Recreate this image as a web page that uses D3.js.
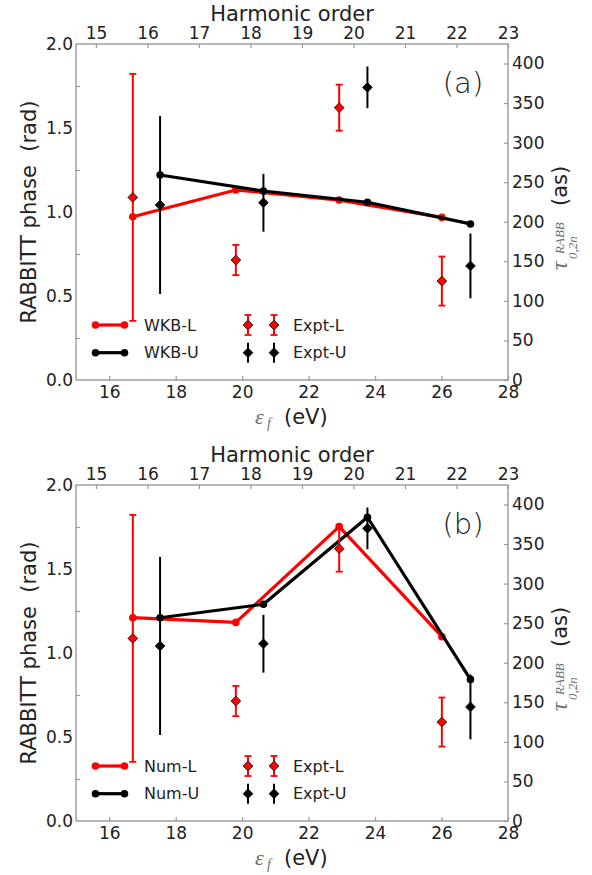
<!DOCTYPE html>
<html>
<head>
<meta charset="utf-8">
<script src="https://cdn.jsdelivr.net/npm/d3@7"></script>
<style>
  html, body { margin: 0; padding: 0; background: #fff; }
  svg { display: block; }
</style>
</head>
<body>
<script>
// Sideband photoelectron energies (eV) for the lower (L) and upper (U) ionic states
const energyL = [16.71, 19.81, 22.92, 26.01];
const energyU = [17.53, 20.64, 23.77, 26.87];

// Calculated RABBITT phases (rad)
const wkbL = [0.972, 1.131, 1.071, 0.968];
const wkbU = [1.220, 1.125, 1.058, 0.929];
const numL = [1.210, 1.182, 1.752, 1.097];
const numU = [1.210, 1.290, 1.808, 0.843];

// Measured phases (rad) and their error bars
const exptL = [1.087, 0.714, 1.621, 0.589];
const errL  = [0.735, 0.090, 0.137, 0.146];
const exptU = [1.042, 1.055, 1.742, 0.679];
const errU  = [0.530, 0.172, 0.124, 0.193];

// Tick values
const energyTicks   = [16, 18, 20, 22, 24, 26, 28];
const phaseTicks    = [0, 0.5, 1.0, 1.5, 2.0];
const phaseMinor    = [0.25, 0.75, 1.25, 1.75];
const harmonicTicks = [15, 16, 17, 18, 19, 20, 21, 22, 23];
const delayTicks    = [0, 50, 100, 150, 200, 250, 300, 350, 400];

// Conversions between axes
const photonEnergy = 1.55;   // eV, IR fundamental
const energyOffset = 7.65;   // eV, harmonic order q -> q*hw - offset
const hbar = 0.658212;       // eV fs
const omega = photonEnergy / hbar;          // rad/fs
const phaseToAs = 1000 / (2 * omega);       // as per rad

const W = 592, H = 875;
const left = 76, plotW = 432, plotH = 336;
const spine = "#999";
const textCol = "#222";
const mathCol = "#6e6e6e";
const RED = "#ff0000", BLACK = "#000000";

const svg = d3.select("body").append("svg")
  .attr("width", W).attr("height", H)
  .attr("viewBox", `0 0 ${W} ${H}`);

const x = d3.scaleLinear().domain([15, 28]).range([0, plotW]);
const y = d3.scaleLinear().domain([0, 2]).range([plotH, 0]);
const xTop = d3.scaleLinear()
  .domain([(15 + energyOffset) / photonEnergy, (28 + energyOffset) / photonEnergy])
  .range([0, plotW]);
const yRight = d3.scaleLinear().domain([0, 2 * phaseToAs]).range([plotH, 0]);

const diamond = d3.symbol().type(d3.symbolSquare).size(48);

function styleAxis(g, size) {
  g.select(".domain").remove();
  g.selectAll(".tick line").attr("stroke", spine).attr("stroke-width", 1.2);
  g.selectAll(".tick text")
    .attr("fill", textCol)
    .attr("font-family", "DejaVu Sans, sans-serif")
    .attr("font-size", size);
}

function drawPanel(top, modelL, modelU, nameL, nameU, tag) {
  const g = svg.append("g").attr("transform", `translate(${left},${top})`);

  // axes
  g.append("g").attr("transform", `translate(0,${plotH})`)
    .call(d3.axisBottom(x).tickValues(energyTicks).tickFormat(d3.format("d"))
      .tickSizeInner(-4).tickSizeOuter(0).tickPadding(6))
    .call(a => styleAxis(a, 17));

  g.append("g")
    .call(d3.axisLeft(y).tickValues(phaseTicks).tickFormat(d3.format(".1f"))
      .tickSizeInner(0).tickSizeOuter(0).tickPadding(3))
    .call(a => styleAxis(a, 17));
  g.append("g")
    .call(d3.axisLeft(y).tickValues(phaseMinor).tickFormat("")
      .tickSizeInner(-4).tickSizeOuter(0))
    .call(a => styleAxis(a, 17));

  g.append("g")
    .call(d3.axisTop(xTop).tickValues(harmonicTicks).tickFormat(d3.format("d"))
      .tickSizeInner(-4).tickSizeOuter(0).tickPadding(5))
    .call(a => styleAxis(a, 17));

  g.append("g").attr("transform", `translate(${plotW},0)`)
    .call(d3.axisRight(yRight).tickValues(delayTicks).tickFormat(d3.format("d"))
      .tickSizeInner(-4).tickSizeOuter(0).tickPadding(4))
    .call(a => styleAxis(a, 17));

  // frame
  g.append("rect")
    .attr("x", 0).attr("y", 0).attr("width", plotW).attr("height", plotH)
    .attr("fill", "none").attr("stroke", spine).attr("stroke-width", 1.4);

  // axis titles
  svg.append("text")
    .attr("x", left + plotW / 2).attr("y", top - 23)
    .attr("text-anchor", "middle")
    .attr("font-family", "DejaVu Sans, sans-serif").attr("font-size", 21)
    .attr("fill", textCol)
    .text("Harmonic order");

  svg.append("text")
    .attr("transform", `translate(35.5,${top + 168}) rotate(-90)`)
    .attr("text-anchor", "middle")
    .attr("font-family", "DejaVu Sans, sans-serif").attr("font-size", 21)
    .attr("fill", textCol)
    .attr("xml:space", "preserve")
    .text("RABBITT phase  (rad)");

  // energy label: epsilon_f (eV)
  const xl = svg.append("g").attr("transform", `translate(0,${top + plotH})`);
  xl.append("text").attr("x", 255).attr("y", 44)
    .attr("font-family", "Liberation Serif, serif").attr("font-style", "italic")
    .attr("font-size", 22).attr("fill", mathCol).text("ε");
  xl.append("text").attr("x", 267).attr("y", 48)
    .attr("font-family", "Liberation Serif, serif").attr("font-style", "italic")
    .attr("font-size", 14).attr("fill", mathCol).text("f");
  xl.append("text").attr("x", 284).attr("y", 44)
    .attr("font-family", "DejaVu Sans, sans-serif")
    .attr("font-size", 21).attr("fill", textCol).text("(eV)");

  // delay label: tau^RABB_{0,2n} (as)
  const rl = svg.append("g").attr("transform", `translate(560,${top + 173}) rotate(-90)`);
  rl.append("text").attr("x", -53).attr("y", 7)
    .attr("font-family", "Liberation Serif, serif").attr("font-style", "italic")
    .attr("font-size", 24).attr("fill", mathCol).text("τ");
  rl.append("text").attr("x", -37).attr("y", 4)
    .attr("font-family", "Liberation Serif, serif").attr("font-style", "italic")
    .attr("font-size", 13).attr("fill", mathCol).text("RABB");
  rl.append("text").attr("x", -42).attr("y", 17)
    .attr("font-family", "Liberation Serif, serif").attr("font-style", "italic")
    .attr("font-size", 13).attr("fill", mathCol).text("0,2n");
  rl.append("text").attr("x", 11).attr("y", 7)
    .attr("font-family", "DejaVu Sans, sans-serif")
    .attr("font-size", 21).attr("fill", textCol).text("(as)");

  // panel tag
  g.append("text")
    .attr("x", 387).attr("y", 49)
    .attr("text-anchor", "middle")
    .attr("font-family", "DejaVu Sans, sans-serif").attr("font-weight", 200)
    .attr("font-size", 29).attr("fill", textCol)
    .text(tag);

  // model curves
  const line = d3.line().x(d => x(d[0])).y(d => y(d[1]));
  [[energyL, modelL, RED], [energyU, modelU, BLACK]].forEach(([ex, vals, col]) => {
    const pts = ex.map((e, i) => [e, vals[i]]);
    g.append("path").datum(pts).attr("d", line)
      .attr("fill", "none").attr("stroke", col).attr("stroke-width", 3.2)
      .attr("stroke-linejoin", "round");
    g.selectAll(null).data(pts).join("circle")
      .attr("cx", d => x(d[0])).attr("cy", d => y(d[1])).attr("r", 3.8)
      .attr("fill", col);
  });

  // measured points with error bars
  [[energyL, exptL, errL, RED, true], [energyU, exptU, errU, BLACK, false]]
    .forEach(([ex, vals, errs, col, caps]) => {
      ex.forEach((e, i) => {
        const cx = x(e), y0 = y(vals[i] - errs[i]), y1 = y(vals[i] + errs[i]);
        g.append("line").attr("x1", cx).attr("x2", cx).attr("y1", y0).attr("y2", y1)
          .attr("stroke", col).attr("stroke-width", 2);
        if (caps) {
          [y0, y1].forEach(yy => g.append("line")
            .attr("x1", cx - 3.5).attr("x2", cx + 3.5).attr("y1", yy).attr("y2", yy)
            .attr("stroke", col).attr("stroke-width", 1.8));
        }
        g.append("path").attr("d", diamond)
          .attr("transform", `translate(${cx},${y(vals[i])}) rotate(45)`)
          .attr("fill", col).attr("stroke", "#111").attr("stroke-width", 0.8);
      });
    });

  // legend
  const rows = [
    { name: nameL, expt: "Expt-L", col: RED, caps: true, yy: 281 },
    { name: nameU, expt: "Expt-U", col: BLACK, caps: false, yy: 308.7 }
  ];
  rows.forEach(r => {
    const lg = g.append("g").attr("transform", `translate(0,${r.yy})`);
    lg.append("line").attr("x1", 95.5 - left).attr("x2", 124.5 - left)
      .attr("y1", 0).attr("y2", 0).attr("stroke", r.col).attr("stroke-width", 3.2);
    [95.5 - left, 124.5 - left].forEach(px => lg.append("circle")
      .attr("cx", px).attr("cy", 0).attr("r", 3.8).attr("fill", r.col));
    lg.append("text").attr("x", 144 - left).attr("y", 0).attr("dy", "0.36em")
      .attr("font-family", "DejaVu Sans, sans-serif").attr("font-size", 16)
      .attr("fill", textCol).text(r.name);
    [248 - left, 274 - left].forEach(px => {
      lg.append("line").attr("x1", px).attr("x2", px).attr("y1", -10).attr("y2", 10)
        .attr("stroke", r.col).attr("stroke-width", 2);
      if (r.caps) {
        [-10, 10].forEach(yy => lg.append("line")
          .attr("x1", px - 3.5).attr("x2", px + 3.5).attr("y1", yy).attr("y2", yy)
          .attr("stroke", r.col).attr("stroke-width", 1.8));
      }
      lg.append("path").attr("d", diamond)
        .attr("transform", `translate(${px},0) rotate(45)`)
        .attr("fill", r.col).attr("stroke", "#111").attr("stroke-width", 0.8);
    });
    lg.append("text").attr("x", 293 - left).attr("y", 0).attr("dy", "0.36em")
      .attr("font-family", "DejaVu Sans, sans-serif").attr("font-size", 16)
      .attr("fill", textCol).text(r.expt);
  });
}

drawPanel(44, wkbL, wkbU, "WKB-L", "WKB-U", "(a)");
drawPanel(485, numL, numU, "Num-L", "Num-U", "(b)");
</script>
</body>
</html>
